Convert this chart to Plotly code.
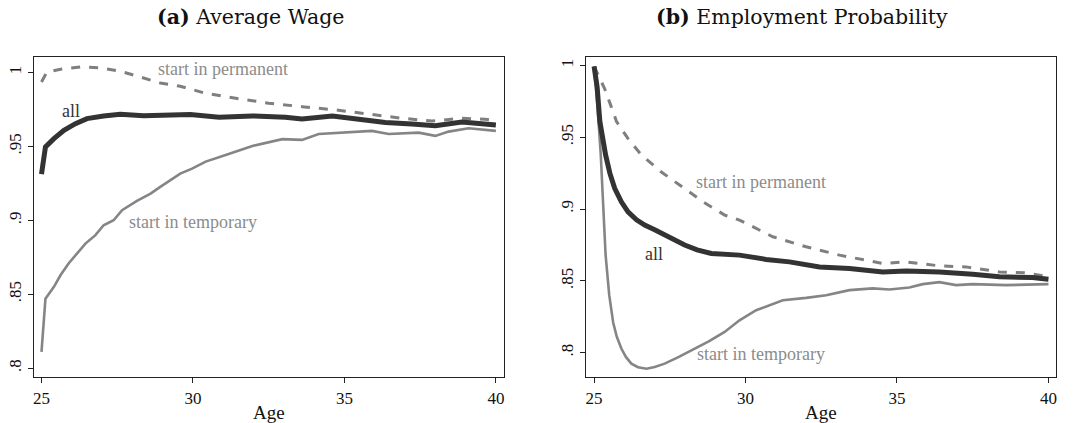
import plotly.graph_objects as go

# ---------------- Data: (a) Average Wage ----------------
wage_perm_age = [25.0, 25.18, 25.63, 26.29, 26.95, 27.6, 28.26, 28.92, 29.58, 30.42, 31.41, 32.5, 33.6, 34.7, 35.8, 36.9, 37.89, 38.88, 39.65, 40.0]
wage_perm_val = [0.9937, 1.0005, 1.0023, 1.0039, 1.0032, 1.0009, 0.9971, 0.993, 0.9908, 0.986, 0.9827, 0.9793, 0.977, 0.9748, 0.972, 0.9691, 0.9673, 0.9691, 0.9685, 0.9675]

wage_all_age = [25.0, 25.13, 25.41, 25.74, 26.12, 26.5, 27.05, 27.6, 28.37, 29.14, 29.91, 30.86, 31.96, 33.05, 33.6, 34.6, 35.47, 36.35, 37.23, 38.0, 38.88, 39.65, 40.0]
wage_all_val = [0.9313, 0.9497, 0.9553, 0.961, 0.9655, 0.9689, 0.9707, 0.9718, 0.9709, 0.9712, 0.9716, 0.9698, 0.9707, 0.9698, 0.9687, 0.9707, 0.9685, 0.9662, 0.9653, 0.9641, 0.9666, 0.9658, 0.9646]

wage_temp_age = [25.0, 25.13, 25.41, 25.63, 25.9, 26.12, 26.45, 26.78, 27.05, 27.38, 27.66, 28.15, 28.6, 28.92, 29.25, 29.58, 29.97, 30.42, 31.08, 31.96, 32.95, 33.6, 34.15, 35.25, 35.91, 36.46, 37.45, 38.0, 38.44, 39.1, 39.65, 40.0]
wage_temp_val = [0.811, 0.847, 0.855, 0.863, 0.871, 0.8765, 0.8843, 0.890, 0.8967, 0.9001, 0.9069, 0.9132, 0.9181, 0.9227, 0.9272, 0.9317, 0.935, 0.9398, 0.9443, 0.9504, 0.955, 0.9545, 0.9585, 0.9601, 0.9606, 0.9585, 0.9594, 0.9572, 0.9601, 0.9624, 0.9612, 0.9606]

# ---------------- Data: (b) Employment Probability ----------------
emp_perm_age = [25.0, 25.13, 25.35, 25.55, 25.74, 26.12, 26.56, 27.22, 27.99, 28.6, 29.31, 29.8, 30.9, 32.0, 33.1, 34.53, 35.3, 36.4, 37.28, 38.38, 39.26, 40.0]
emp_perm_val = [0.9993, 0.9935, 0.9838, 0.9722, 0.961, 0.949, 0.9377, 0.9258, 0.9144, 0.905, 0.8958, 0.8923, 0.8807, 0.8737, 0.8679, 0.8621, 0.8632, 0.8604, 0.8597, 0.8562, 0.8555, 0.8528]

emp_all_age = [25.0, 25.1, 25.19, 25.28, 25.38, 25.52, 25.68, 25.9, 26.12, 26.4, 26.67, 27.0, 27.33, 27.66, 27.99, 28.4, 28.87, 29.8, 30.68, 31.45, 32.44, 33.43, 34.53, 35.3, 36.4, 37.5, 38.38, 39.47, 40.0]
emp_all_val = [0.9993, 0.985, 0.961, 0.948, 0.9377, 0.925, 0.9144, 0.905, 0.898, 0.8925, 0.8888, 0.8855, 0.8819, 0.879, 0.8749, 0.8715, 0.869, 0.8679, 0.8649, 0.8632, 0.8597, 0.8586, 0.8562, 0.8569, 0.8562, 0.8546, 0.8528, 0.8523, 0.8511]

emp_temp_age = [25.0, 25.1, 25.22, 25.3, 25.38, 25.5, 25.63, 25.75, 25.9, 26.05, 26.23, 26.45, 26.73, 27.0, 27.33, 27.8, 28.32, 28.8, 29.31, 29.8, 30.35, 31.23, 32.0, 32.66, 33.43, 34.2, 34.75, 35.41, 35.85, 36.4, 36.95, 37.5, 38.6, 40.0]
emp_temp_val = [0.9993, 0.975, 0.938, 0.904, 0.868, 0.840, 0.821, 0.811, 0.8028, 0.797, 0.7923, 0.7898, 0.7888, 0.790, 0.7923, 0.797, 0.8028, 0.808, 0.8144, 0.8225, 0.8295, 0.8365, 0.8381, 0.840, 0.8435, 0.8447, 0.844, 0.8454, 0.8477, 0.8491, 0.847, 0.8477, 0.847, 0.8477]

x_ticks = [25, 30, 35, 40]
x_ticktext = ["25", "30", "35", "40"]
y_ticks = [0.8, 0.85, 0.9, 0.95, 1.0]
y_ticktext = [".8", ".85", ".9", ".95", "1"]

FONT = "Liberation Serif"
TITLE_FONT = "DejaVu Serif"
PERM_C = "#7f7f7f"
ALL_C = "#333333"
TEMP_C = "#858585"
LABEL_C = "#8c8c8c"

fig = go.Figure()

def add_panel(xa, ya, perm_x, perm_y, all_x, all_y, temp_x, temp_y):
    fig.add_trace(go.Scatter(x=perm_x, y=perm_y, mode="lines", xaxis=xa, yaxis=ya,
                             line=dict(color=PERM_C, width=3, dash="dash"), showlegend=False))
    fig.add_trace(go.Scatter(x=temp_x, y=temp_y, mode="lines", xaxis=xa, yaxis=ya,
                             line=dict(color=TEMP_C, width=2.6), showlegend=False))
    fig.add_trace(go.Scatter(x=all_x, y=all_y, mode="lines", xaxis=xa, yaxis=ya,
                             line=dict(color=ALL_C, width=5), showlegend=False))

add_panel("x", "y", wage_perm_age, wage_perm_val, wage_all_age, wage_all_val, wage_temp_age, wage_temp_val)
add_panel("x2", "y2", emp_perm_age, emp_perm_val, emp_all_age, emp_all_val, emp_temp_age, emp_temp_val)

W, H = 1075, 423
axis_common = dict(showline=True, linecolor="#222", linewidth=1.2, mirror=True, ticks="outside",
                   ticklen=5, tickcolor="#222", showgrid=False, zeroline=False,
                   tickfont=dict(family=FONT, size=17, color="#111"))

fig.update_layout(
    width=W, height=H, margin=dict(l=0, r=0, t=0, b=0),
    paper_bgcolor="white", plot_bgcolor="white",
    font=dict(family=FONT, color="#111"),
    xaxis=dict(domain=[33/W, 504/W], range=[24.75, 40.27], tickvals=x_ticks, ticktext=x_ticktext,
               anchor="y", **axis_common),
    yaxis=dict(domain=[1-377/H, 1-57/H], range=[0.794, 1.0106], tickvals=y_ticks, ticktext=y_ticktext,
               tickangle=-90, anchor="x", **axis_common),
    xaxis2=dict(domain=[586/W, 1057/W], range=[24.73, 40.25], tickvals=x_ticks, ticktext=x_ticktext,
                anchor="y2", **axis_common),
    yaxis2=dict(domain=[1-377/H, 1-57/H], range=[0.783, 1.0059], tickvals=y_ticks, ticktext=y_ticktext,
                tickangle=-90, anchor="x2", **axis_common),
)

ann = []
ann.append(dict(text="<b>(a)</b> Average Wage", x=250/W, y=1-17/H, xref="paper", yref="paper",
                showarrow=False, font=dict(family=TITLE_FONT, size=20.5, color="#111"), xanchor="center", yanchor="middle"))
ann.append(dict(text="<b>(b)</b> Employment Probability", x=802/W, y=1-17/H, xref="paper", yref="paper",
                showarrow=False, font=dict(family=TITLE_FONT, size=20.5, color="#111"), xanchor="center", yanchor="middle"))
ann.append(dict(text="Age", x=268.5/W, y=1-412/H, xref="paper", yref="paper",
                showarrow=False, font=dict(family=FONT, size=19, color="#111"), xanchor="center", yanchor="middle"))
ann.append(dict(text="Age", x=821.5/W, y=1-412/H, xref="paper", yref="paper",
                showarrow=False, font=dict(family=FONT, size=19, color="#111"), xanchor="center", yanchor="middle"))

def lab(text, x, y, xr, yr, color):
    ann.append(dict(text=text, x=x, y=y, xref=xr, yref=yr, showarrow=False,
                    font=dict(family=FONT, size=18, color=color), xanchor="center", yanchor="middle"))

lab("start in permanent", 31.0, 1.0023, "x", "y", LABEL_C)
lab("all", 25.99, 0.974, "x", "y", "#333")
lab("start in temporary", 29.99, 0.899, "x", "y", LABEL_C)
lab("start in permanent", 30.5, 0.919, "x2", "y2", LABEL_C)
lab("all", 26.98, 0.8686, "x2", "y2", "#333")
lab("start in temporary", 30.5, 0.7988, "x2", "y2", LABEL_C)

fig.update_layout(annotations=ann)
fig.write_html("out.html", config={"displayModeBar": False},
               post_script="document.body.style.margin='0';document.body.style.overflow='hidden';")
